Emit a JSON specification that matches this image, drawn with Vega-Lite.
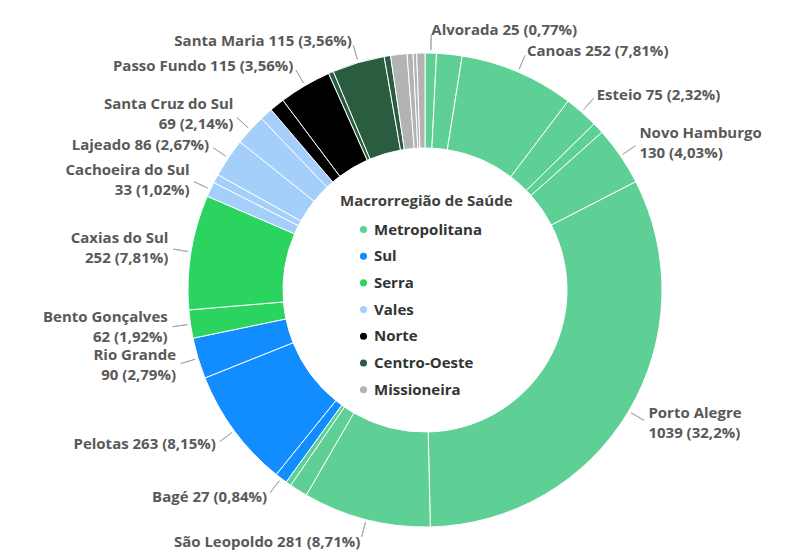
{
  "$schema": "https://vega.github.io/schema/vega-lite/v6.json",
  "width": 742,
  "height": 534,
  "padding": {"left": 54, "top": 23, "right": 0, "bottom": 0},
  "autosize": {"type": "none"},
  "background": "white",
  "config": {"view": {"stroke": null}, "font": "Open Sans"},
  "data": {"values": [
    {"city": "Alvorada", "region": "Metropolitana", "value": 25, "label": "Alvorada 25 (0,77%)"},
    {"city": "Cachoeirinha", "region": "Metropolitana", "value": 56, "label": ""},
    {"city": "Canoas", "region": "Metropolitana", "value": 252, "label": "Canoas 252 (7,81%)"},
    {"city": "Esteio", "region": "Metropolitana", "value": 75, "label": "Esteio 75 (2,32%)"},
    {"city": "Gravataí", "region": "Metropolitana", "value": 25, "label": ""},
    {"city": "Novo Hamburgo", "region": "Metropolitana", "value": 130, "label": "Novo Hamburgo\n130 (4,03%)"},
    {"city": "Porto Alegre", "region": "Metropolitana", "value": 1039, "label": "Porto Alegre\n1039 (32,2%)"},
    {"city": "São Leopoldo", "region": "Metropolitana", "value": 281, "label": "São Leopoldo 281 (8,71%)"},
    {"city": "Sapucaia do Sul", "region": "Metropolitana", "value": 40, "label": ""},
    {"city": "Viamão", "region": "Metropolitana", "value": 12, "label": ""},
    {"city": "Bagé", "region": "Sul", "value": 27, "label": "Bagé 27 (0,84%)"},
    {"city": "Pelotas", "region": "Sul", "value": 263, "label": "Pelotas 263 (8,15%)"},
    {"city": "Rio Grande", "region": "Sul", "value": 90, "label": "Rio Grande\n90 (2,79%)"},
    {"city": "Bento Gonçalves", "region": "Serra", "value": 62, "label": "Bento Gonçalves\n62 (1,92%)"},
    {"city": "Caxias do Sul", "region": "Serra", "value": 252, "label": "Caxias do Sul\n252 (7,81%)"},
    {"city": "Cachoeira do Sul", "region": "Vales", "value": 33, "label": "Cachoeira do Sul\n33 (1,02%)"},
    {"city": "Estrela", "region": "Vales", "value": 19, "label": ""},
    {"city": "Lajeado", "region": "Vales", "value": 86, "label": "Lajeado 86 (2,67%)"},
    {"city": "Santa Cruz do Sul", "region": "Vales", "value": 69, "label": "Santa Cruz do Sul\n69 (2,14%)"},
    {"city": "Venâncio Aires", "region": "Vales", "value": 28, "label": ""},
    {"city": "Erechim", "region": "Norte", "value": 33, "label": ""},
    {"city": "Passo Fundo", "region": "Norte", "value": 115, "label": "Passo Fundo 115 (3,56%)"},
    {"city": "Cacequi", "region": "Centro-Oeste", "value": 11, "label": ""},
    {"city": "Santa Maria", "region": "Centro-Oeste", "value": 115, "label": "Santa Maria 115 (3,56%)"},
    {"city": "Santiago", "region": "Centro-Oeste", "value": 14, "label": ""},
    {"city": "Cruz Alta", "region": "Missioneira", "value": 36, "label": ""},
    {"city": "Ijuí", "region": "Missioneira", "value": 13, "label": ""},
    {"city": "Santa Rosa", "region": "Missioneira", "value": 8, "label": ""},
    {"city": "Santo Ângelo", "region": "Missioneira", "value": 18, "label": ""}
  ]},
  "transform": [{"window": [{"op": "row_number", "as": "idx"}]}],
  "encoding": {
    "theta": {"field": "value", "type": "quantitative", "stack": true},
    "order": {"field": "idx", "type": "quantitative"}
  },
  "layer": [
    {
      "mark": {"type": "arc", "innerRadius": 142, "outerRadius": 237, "stroke": "white", "strokeWidth": 1},
      "encoding": {
        "color": {
          "field": "region", "type": "nominal",
          "scale": {
            "domain": ["Metropolitana", "Sul", "Serra", "Vales", "Norte", "Centro-Oeste", "Missioneira"],
            "range": ["#5ECF95", "#118DFF", "#2BD35F", "#A3CFFA", "#000000", "#2A5C3F", "#B3B3B3"]
          },
          "legend": {
            "title": "Macrorregião de Saúde",
            "orient": "none",
            "legendX": 286,
            "legendY": 171,
            "padding": 0,
            "titleFont": "Open Sans",
            "titleFontSize": 15,
            "titleFontWeight": "bold",
            "titleColor": "#404040",
            "titlePadding": 13,
            "labelFont": "Open Sans",
            "labelFontSize": 15,
            "labelFontWeight": "bold",
            "labelColor": "#333333",
            "symbolType": "circle",
            "symbolSize": 50,
            "symbolStrokeWidth": 0,
            "symbolOffset": 16,
            "labelOffset": 3,
            "rowPadding": 10.7
          }
        }
      }
    },
    {
      "mark": {"type": "arc", "innerRadius": 240, "outerRadius": 255, "padAngle": 3, "stroke": "#aaaaaa", "strokeWidth": 1, "fillOpacity": 0},
      "encoding": {
        "strokeOpacity": {"condition": {"test": "datum.label == ''", "value": 0}, "value": 1}
      }
    },
    {
      "mark": {
        "type": "text", "radius": 260, "font": "Open Sans", "fontWeight": "bold", "fontSize": 15,
        "lineHeight": 20,
        "fill": "#595959", "lineBreak": "\n", "baseline": "middle",
        "align": {"expr": "datum.value_start + datum.value_end < 3227 ? 'left' : 'right'"},
        "dy": {"expr": "indexof(datum.label, '\\n') >= 0 ? -10 : 0"}
      },
      "encoding": {"text": {"field": "label", "type": "nominal"}}
    }
  ]
}
